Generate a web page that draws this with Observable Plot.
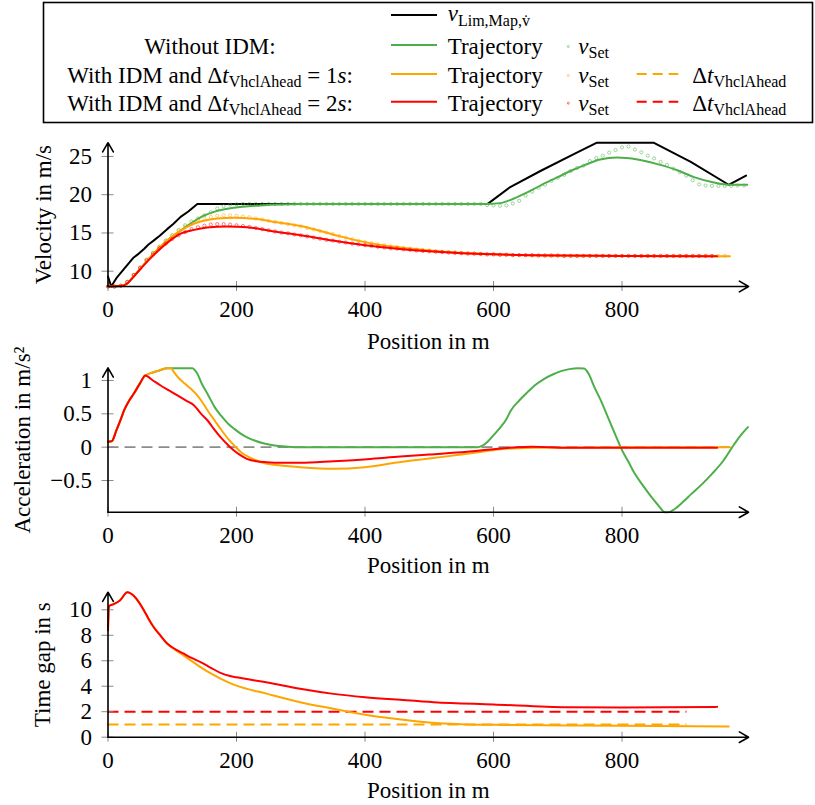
<!DOCTYPE html>
<html><head><meta charset="utf-8">
<script src="https://cdn.jsdelivr.net/npm/d3@7"></script>
<script src="https://cdn.jsdelivr.net/npm/@observablehq/plot@0.6"></script>
<style>
body{margin:0;background:#fff;}
#wrap{position:relative;width:815px;height:805px;overflow:hidden;font-family:'Liberation Serif','DejaVu Serif',serif;}
#wrap svg{position:absolute;left:0;overflow:visible;}
</style></head><body><div id="wrap"></div>
<script>
// ---------------- data ----------------
const positionTicks = [0, 200, 400, 600, 800];
const velocityTicks = [10, 15, 20, 25];
const accelTicks = [-0.5, 0, 0.5, 1];
const gapTicks = [0, 2, 4, 6, 8, 10];

// [position m, velocity m/s]
const vLimMap = [[0,9.3],[5,8.0],[14,9.2],[25,10.3],[40,11.8],[48,12.3],[56,12.9],[63,13.5],[71,14.0],[80,14.6],[92,15.5],[102,16.2],[113,17.1],[125,17.8],[139,18.8],[591,18.8],[626,21.0],[673,23.1],[725,25.3],[761,26.8],[849,26.8],[907,24.3],[966,21.3],[993,22.5]];
const vTrajNoIdm = [[0,8],[20,8.05],[30,8.4],[40,9.3],[56,10.9],[71,12.3],[92,14.0],[113,15.3],[128,16.2],[144,17.05],[165,17.75],[196,18.3],[237,18.6],[300,18.8],[591,18.8],[610,18.9],[626,19.3],[650,20.2],[673,21.2],[700,22.3],[725,23.3],[740,23.8],[766,24.6],[792,24.85],[824,24.6],[855,24.0],[886,23.2],[912,22.3],[943,21.6],[969,21.3],[995,21.3]];
const vTrajIdm1 = [[0,8],[20,8.05],[30,8.4],[40,9.3],[56,10.9],[71,12.3],[92,14.0],[113,15.3],[128,16.0],[144,16.5],[170,16.9],[196,17.0],[227,16.85],[263,16.4],[300,15.9],[350,14.8],[400,13.8],[450,13.15],[500,12.7],[550,12.4],[600,12.2],[700,12.05],[800,12.0],[968,11.95]];
const vTrajIdm2 = [[0,8],[20,8.05],[30,8.4],[40,9.3],[56,10.8],[71,12.1],[92,13.7],[113,14.9],[134,15.4],[154,15.7],[185,15.85],[217,15.75],[258,15.2],[300,14.7],[350,14.0],[400,13.4],[450,12.95],[500,12.6],[550,12.35],[600,12.2],[700,12.05],[800,12.0],[948,11.95]];

// set velocities, one value every vSetStep metres starting at 0 m
const vSetStep = 10;
const vSetNoIdm = [8.0,8.0,8.1,8.6,9.5,10.5,11.5,12.4,13.2,14.0,14.7,15.4,16.0,16.5,16.9,17.3,17.7,18.2,18.5,18.7,18.75,
  18.8,18.8,18.8,18.8,18.8,18.8,18.8,18.8,18.8,18.8,18.8,18.8,18.8,18.8,18.8,18.8,18.8,18.8,18.8,18.8,
  18.8,18.8,18.8,18.8,18.8,18.8,18.8,18.8,18.8,18.8,18.8,18.8,18.8,18.8,18.8,18.8,18.8,18.8,
  18.65,18.6,18.55,18.6,18.85,19.2,19.9,20.4,20.9,21.3,21.8,22.2,22.6,23.1,23.5,23.8,24.4,24.8,25.1,25.5,25.85,
  26.2,26.3,25.9,25.55,25.1,24.75,24.3,23.9,23.4,22.95,22.5,21.9,21.35,21.2,21.15,21.15,21.15,21.15,21.2,21.2];
const vSetIdm1 = [8.0,8.0,8.1,8.6,9.5,10.5,11.5,12.4,13.2,14.0,14.7,15.3,15.8,16.2,16.6,16.9,17.1,17.25,17.3,17.3,
  17.25,17.15,17.05,16.9,16.75,16.6,16.45,16.3,16.15,16.0,15.85,15.65,15.45,15.25,15.05,14.85,14.6,14.4,14.2,14.0,
  13.8,13.65,13.5,13.4,13.25,13.15,13.05,12.95,12.85,12.75,12.7,12.6,12.55,12.5,12.45,12.4,12.35,12.3,12.25,12.2,
  12.2,12.15,12.15,12.1,12.1,12.1,12.05,12.05,12.05,12.05,12.05,
  12.0,12.0,12.0,12.0,12.0,12.0,12.0,12.0,12.0,12.0,12.0,12.0,12.0,12.0,12.0,12.0,12.0,12.0,12.0,12.0,12.0,12.0,12.0,12.0,12.0,12.0];
const vSetIdm2 = [8.0,8.0,8.1,8.6,9.5,10.4,11.4,12.2,13.0,13.6,14.2,14.7,15.1,15.5,15.75,15.95,16.1,16.15,16.15,16.1,
  16.0,15.9,15.8,15.65,15.5,15.35,15.2,15.05,14.95,14.8,14.7,14.55,14.4,14.25,14.1,14.0,13.85,13.75,13.6,13.5,
  13.4,13.3,13.2,13.1,13.0,12.95,12.85,12.8,12.7,12.65,12.6,12.55,12.5,12.45,12.4,12.35,12.3,12.3,12.25,12.2,12.2,
  12.15,12.15,12.1,12.1,12.1,12.1,12.05,12.05,12.05,12.05,
  12.0,12.0,12.0,12.0,12.0,12.0,12.0,12.0,12.0,12.0,12.0,12.0,12.0,12.0,12.0,12.0,12.0,12.0,12.0,12.0,12.0,12.0,12.0,12.0];

// [position m, acceleration m/s²]
const accNoIdm = [[0,0.08],[6,0.09],[13,0.25],[20,0.42],[25,0.55],[33,0.7],[40,0.8],[50,0.96],[58,1.075],[70,1.12],[80,1.15],[92,1.185],[131,1.185],[138,1.12],[146,0.95],[156,0.78],[166,0.6],[177,0.46],[187,0.35],[197,0.27],[207,0.2],[218,0.14],[228,0.1],[243,0.055],[259,0.025],[280,0.008],[300,0.0],[575,0.0],[582,0.02],[590,0.075],[600,0.18],[611,0.3],[620,0.42],[627,0.55],[640,0.7],[653,0.825],[666,0.94],[679,1.025],[692,1.09],[705,1.14],[718,1.17],[731,1.185],[741,1.18],[748,1.1],[757,0.9],[768,0.68],[778,0.45],[789,0.2],[799,-0.025],[810,-0.22],[820,-0.4],[833,-0.58],[846,-0.75],[857,-0.88],[867,-0.975],[872,-0.975],[880,-0.94],[895,-0.82],[908,-0.7],[925,-0.55],[940,-0.4],[958,-0.2],[975,0.05],[985,0.18],[996,0.3]];
const accIdm1 = [[0,0.08],[6,0.09],[13,0.25],[20,0.42],[25,0.55],[33,0.7],[40,0.8],[50,0.96],[58,1.075],[70,1.12],[80,1.15],[92,1.185],[98,1.185],[103,1.12],[111,1.025],[120,0.95],[129,0.875],[137,0.8],[145,0.7],[155,0.55],[166,0.4],[177,0.25],[187,0.125],[197,0.02],[207,-0.075],[222,-0.16],[238,-0.225],[260,-0.265],[299,-0.3],[351,-0.325],[400,-0.3],[450,-0.23],[500,-0.17],[550,-0.11],[585,-0.065],[611,-0.03],[640,-0.015],[663,-0.01],[968,0.0]];
const accIdm2 = [[0,0.08],[6,0.09],[13,0.25],[20,0.42],[25,0.55],[33,0.7],[40,0.8],[50,0.96],[58,1.075],[70,1.0],[82,0.925],[95,0.85],[108,0.775],[121,0.7],[134,0.625],[145,0.5],[155,0.4],[165,0.27],[175,0.15],[186,0.04],[196,-0.05],[206,-0.12],[216,-0.175],[231,-0.21],[247,-0.225],[270,-0.235],[299,-0.235],[351,-0.21],[403,-0.18],[455,-0.14],[500,-0.11],[559,-0.07],[590,-0.04],[611,-0.02],[637,0.0],[660,0.005],[715,-0.01],[948,-0.01]];
const accZeroEnd = 968;

// [position m, time gap s]
const gapIdm1 = [[0,8.4],[1.5,10.3],[9,10.45],[19,10.75],[30,11.38],[40,11.1],[48,10.6],[56,9.95],[63,9.3],[71,8.65],[82,7.95],[92,7.35],[105,6.85],[118,6.4],[131,5.95],[144,5.5],[160,5.0],[175,4.6],[190,4.25],[200,4.05],[248,3.4],[299,2.75],[351,2.23],[400,1.76],[450,1.42],[500,1.15],[550,1.02],[600,0.97],[715,0.92],[966,0.84]];
const gapIdm2 = [[0,8.4],[1.5,10.3],[9,10.45],[19,10.75],[30,11.38],[40,11.1],[48,10.6],[56,9.95],[63,9.3],[71,8.65],[82,7.95],[92,7.35],[105,6.9],[118,6.55],[131,6.2],[144,5.9],[160,5.45],[175,5.05],[190,4.8],[200,4.7],[248,4.3],[299,3.8],[351,3.4],[400,3.14],[455,2.93],[507,2.75],[600,2.57],[715,2.35],[800,2.33],[948,2.38]];
const gapTarget1 = 1, gapTarget2 = 2, gapTargetEnd = 901;

// legend labels
const legendGroups = [
  [{t:"Without IDM:"}],
  [{t:"With IDM and Δ"},{t:"t",i:1},{t:"VhclAhead",sub:1},{t:" = 1"},{t:"s",i:1},{t:":"}],
  [{t:"With IDM and Δ"},{t:"t",i:1},{t:"VhclAhead",sub:1},{t:" = 2"},{t:"s",i:1},{t:":"}]
];
const legendLimit = [{t:"v",i:1},{t:"Lim,Map,v̇",sub:1}];
const legendTraj = [{t:"Trajectory"}];
const legendSet = [{t:"v",i:1},{t:"Set",sub:1}];
const legendGap = [{t:"Δ"},{t:"t",i:1},{t:"VhclAhead",sub:1}];

// ---------------- drawing ----------------
const FONT = "'Liberation Serif', 'DejaVu Serif', serif";
const GREEN = "#4daf4a", ORANGE = "#ffa500", RED = "#ff0000";
const X_MAX = 997;
const wrap = document.getElementById("wrap");
const pts = a => a.map(([x, y]) => ({x, y}));
const setPts = a => a.map((v, i) => ({x: i * vSetStep, y: v}));
const fmt = d => (d < 0 ? "\u2212" + Math.abs(d) : String(d));

function chart({top, height, yDomain, mt, mb, yTicks, yLabel, yLabelX, xLabelDy, marks}) {
  const ml = 107.5, mr = 815 - 748.1;
  const [y0, y1] = yDomain;
  const p = Plot.plot({
    width: 815, height, marginLeft: ml, marginRight: mr, marginTop: mt, marginBottom: mb,
    x: {domain: [0, X_MAX]}, y: {domain: yDomain},
    style: {background: "transparent", fontFamily: FONT, fontSize: "23px", overflow: "visible", color: "black"},
    marks: [
      ...marks,
      Plot.axisX({ticks: positionTicks, tickSize: 10, dy: -5, tickFormat: () => "", stroke: "#8a8a8a", label: null}),
      Plot.axisX({ticks: positionTicks, tickSize: 0, tickPadding: 14, label: null, fontSize: 23, tickFormat: fmt}),
      Plot.axisY({ticks: yTicks, tickSize: 12, dx: 6, tickFormat: () => "", stroke: "#8a8a8a", label: null}),
      Plot.axisY({ticks: yTicks, tickSize: 0, tickPadding: 16, label: null, fontSize: 23, tickFormat: fmt}),
      Plot.arrow([{a: 0, b: y0, c: X_MAX, d: y0}], {x1: "a", y1: "b", x2: "c", y2: "d", stroke: "black", strokeWidth: 1.6, headLength: 10, headAngle: 60}),
      Plot.arrow([{a: 0, b: y0, c: 0, d: y1}], {x1: "a", y1: "b", x2: "c", y2: "d", stroke: "black", strokeWidth: 1.6, headLength: 10, headAngle: 60}),
      Plot.text([yLabel], {frameAnchor: "left", textAnchor: "middle", lineAnchor: "middle", rotate: -90, dx: yLabelX - ml, fontSize: 23, fill: "black"}),
      Plot.text(["Position in m"], {frameAnchor: "bottom", textAnchor: "middle", dy: xLabelDy, lineAnchor: "middle", fontSize: 23, fill: "black"})
    ]
  });
  p.style.position = "absolute";
  p.style.left = "0px";
  p.style.top = top + "px";
  wrap.append(p);
}

const lineOpts = (stroke) => ({x: "x", y: "y", stroke, strokeWidth: 2, curve: "monotone-x"});
const dotOpts = (stroke) => ({x: "x", y: "y", r: 1.6, stroke, strokeWidth: 0.8, fill: "none", strokeOpacity: 0.65});

// Velocity
chart({
  top: 125, height: 235, yDomain: [8, 26.8], mt: 17.2, mb: 74, yTicks: velocityTicks,
  yLabel: "Velocity in m/s", yLabelX: 43, xLabelDy: 55.5,
  marks: [
    Plot.line(pts(vLimMap), {x: "x", y: "y", stroke: "black", strokeWidth: 2}),
    Plot.line(pts(vTrajNoIdm), lineOpts(GREEN)),
    Plot.dot(setPts(vSetNoIdm), dotOpts(GREEN)),
    Plot.line(pts(vTrajIdm1), lineOpts(ORANGE)),
    Plot.dot(setPts(vSetIdm1), dotOpts(ORANGE)),
    Plot.line(pts(vTrajIdm2), lineOpts(RED)),
    Plot.dot(setPts(vSetIdm2), dotOpts(RED))
  ]
});

// Acceleration
chart({
  top: 355, height: 230, yDomain: [-0.975, 1.19], mt: 12.3, mb: 73.3, yTicks: accelTicks,
  yLabel: "Acceleration in m/s²", yLabelX: 22, xLabelDy: 53.3,
  marks: [
    Plot.ruleY([{y: 0, a: 0, b: accZeroEnd}], {y: "y", x1: "a", x2: "b", stroke: "#8c8c8c", strokeWidth: 1.8, strokeDasharray: "11,6"}),
    Plot.line(pts(accNoIdm), lineOpts(GREEN)),
    Plot.line(pts(accIdm1), lineOpts(ORANGE)),
    Plot.line(pts(accIdm2), lineOpts(RED))
  ]
});

// Time gap
chart({
  top: 585, height: 220, yDomain: [0, 11.38], mt: 6.7, mb: 68.3, yTicks: gapTicks,
  yLabel: "Time gap in s", yLabelX: 42, xLabelDy: 53.3,
  marks: [
    Plot.ruleY([{y: gapTarget1, a: 0, b: gapTargetEnd}], {y: "y", x1: "a", x2: "b", stroke: ORANGE, strokeWidth: 2, strokeDasharray: "11,6"}),
    Plot.ruleY([{y: gapTarget2, a: 0, b: gapTargetEnd}], {y: "y", x1: "a", x2: "b", stroke: RED, strokeWidth: 2, strokeDasharray: "11,6"}),
    Plot.line(pts(gapIdm1), lineOpts(ORANGE)),
    Plot.line(pts(gapIdm2), lineOpts(RED))
  ]
});

// Legend
const L = d3.create("svg").attr("width", 815).attr("height", 125)
  .style("position", "absolute").style("left", "0px").style("top", "0px")
  .style("font-family", FONT).attr("font-size", 23).attr("fill", "black");
L.append("rect").attr("x", 43.5).attr("y", 2.5).attr("width", 769).attr("height", 120)
  .attr("fill", "white").attr("stroke", "black").attr("stroke-width", 1.6);

function richText(parts, x, y, anchor, subShift) {
  const t = L.append("text").attr("x", x).attr("y", y).attr("text-anchor", anchor || "start");
  let shifted = false;
  parts.forEach(p => {
    const s = t.append("tspan").text(p.t);
    if (p.i) s.attr("font-style", "italic");
    if (p.sub) { s.attr("font-size", 16).attr("dy", subShift || 4); shifted = true; }
    else if (shifted) { s.attr("dy", -(subShift || 4)); shifted = false; }
  });
  return t;
}
function sample(y, color) {
  L.append("line").attr("x1", 391).attr("x2", 437).attr("y1", y).attr("y2", y)
    .attr("stroke", color).attr("stroke-width", 2);
}
function dashSample(y, color) {
  L.append("line").attr("x1", 636.7).attr("x2", 678.3).attr("y1", y).attr("y2", y)
    .attr("stroke", color).attr("stroke-width", 2).attr("stroke-dasharray", "10,6");
}
function dotSample(y, color) {
  L.append("circle").attr("cx", 568.3).attr("cy", y + 1.5).attr("r", 1)
    .attr("fill", "none").attr("stroke", color).attr("stroke-width", 0.8).attr("stroke-opacity", 0.7);
}
// row 1
sample(15, "black");
richText(legendLimit, 447.7, 21, "start", 5);
// rows 2-4
const rowLine = [45, 74, 101.7], rowBase = [54, 82.5, 110.5], rowColor = [GREEN, ORANGE, RED];
legendGroups.forEach((g, k) => {
  richText(g, 210, rowBase[k], "middle");
  sample(rowLine[k], rowColor[k]);
  richText(legendTraj, 447.7, rowBase[k]);
  dotSample(rowLine[k], rowColor[k]);
  richText(legendSet, 578.3, rowBase[k]);
  if (k > 0) {
    dashSample(rowLine[k], rowColor[k]);
    richText(legendGap, 692.3, rowBase[k]);
  }
});
wrap.append(L.node());
</script></body></html>
